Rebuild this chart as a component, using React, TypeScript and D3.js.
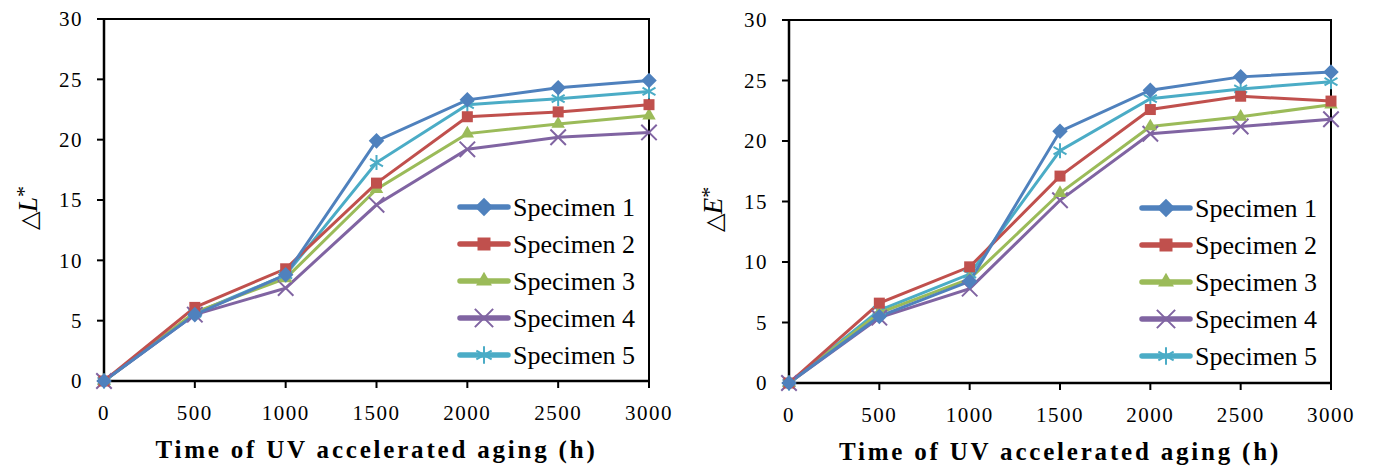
import React from "react";
import * as d3 from "d3";

const hours = [0, 500, 1000, 1500, 2000, 2500, 3000];
const yTicks = [0, 5, 10, 15, 20, 25, 30];
const seriesNames = ["Specimen 1", "Specimen 2", "Specimen 3", "Specimen 4", "Specimen 5"];
const seriesColors = ["#4f81bd", "#c0504d", "#9bbb59", "#8064a2", "#4bacc6"];
const seriesMarkers = ["diamond", "square", "triangle", "times", "asterisk"];

const deltaL1 = [0, 5.5, 8.8, 19.9, 23.3, 24.3, 24.9];
const deltaL2 = [0, 6.1, 9.3, 16.4, 21.9, 22.3, 22.9];
const deltaL3 = [0, 5.7, 8.5, 15.9, 20.5, 21.3, 22.0];
const deltaL4 = [0, 5.5, 7.7, 14.6, 19.2, 20.2, 20.6];
const deltaL5 = [0, 5.6, 8.8, 18.1, 22.9, 23.4, 24.0];

const deltaE1 = [0, 5.5, 8.4, 20.8, 24.2, 25.3, 25.7];
const deltaE2 = [0, 6.6, 9.6, 17.1, 22.6, 23.7, 23.3];
const deltaE3 = [0, 5.8, 8.6, 15.7, 21.2, 22.0, 23.0];
const deltaE4 = [0, 5.4, 7.8, 15.1, 20.6, 21.2, 21.8];
const deltaE5 = [0, 6.0, 9.0, 19.2, 23.5, 24.3, 24.9];

const FONT = "Liberation Serif";

function markerPath(kind: string, size: number) {
  if (kind === "diamond") return d3.symbol(d3.symbolSquare, size * size)();
  if (kind === "square") return d3.symbol(d3.symbolSquare, size * size)();
  if (kind === "triangle") return d3.symbol(d3.symbolTriangle, size * size * 0.65)();
  if (kind === "times") return d3.symbol(d3.symbolTimes, size * size * 1.3)();
  return d3.symbol(d3.symbolAsterisk, size * size * 1.3)();
}

function Marker({ kind, color, x, y, size }: any) {
  const stroked = kind === "times" || kind === "asterisk";
  const rot = kind === "diamond" ? " rotate(45)" : "";
  return (
    <path
      d={markerPath(kind, size) as string}
      transform={`translate(${x},${y})${rot}`}
      fill={stroked ? "none" : color}
      stroke={color}
      strokeWidth={stroked ? 2 : 0}
    />
  );
}

function Panel({ left, right, top, bottom, series, yLetter }: any) {
  const x = d3.scaleLinear().domain([0, 3000]).range([left, right]);
  const y = d3.scaleLinear().domain([0, 30]).range([bottom, top]);
  const line = d3
    .line<number>()
    .x((_, i) => x(hours[i]))
    .y((d) => y(d));
  const order = [4, 3, 2, 1, 0];
  const legX = right - 189;
  const legY0 = top + 188;
  return (
    <g>
      <path d={`M${left},${top}H${right}V${bottom}`} fill="none" stroke="#000" strokeWidth={2} />
      <line x1={left} x2={left} y1={top} y2={bottom + 1} stroke="#000" strokeWidth={2.5} />
      <line x1={left - 1} x2={right + 1} y1={bottom} y2={bottom} stroke="#000" strokeWidth={2.5} />
      {yTicks.map((t) => (
        <g key={"y" + t}>
          <line x1={left - 7} x2={left} y1={y(t)} y2={y(t)} stroke="#000" strokeWidth={2} />
          <text x={left - 21} y={y(t)} dy="0.35em" textAnchor="end" fontSize={21} letterSpacing={1.5} style={{ fontFamily: FONT }}>
            {t}
          </text>
        </g>
      ))}
      {hours.map((h) => (
        <g key={"x" + h}>
          <line x1={x(h)} x2={x(h)} y1={bottom} y2={bottom + 7} stroke="#000" strokeWidth={2} />
          <text x={x(h)} y={bottom + 39} textAnchor="middle" fontSize={21} letterSpacing={1.5} style={{ fontFamily: FONT }}>
            {h}
          </text>
        </g>
      ))}
      <text
        x={(left + right) / 2}
        y={bottom + 77}
        textAnchor="middle"
        fontSize={25}
        fontWeight="bold"
        letterSpacing={2.8}
        style={{ fontFamily: FONT }}
      >
        Time of UV accelerated aging (h)
      </text>
      <text
        transform={`translate(${left - 67},${(top + bottom) / 2 + 8}) rotate(-90)`}
        textAnchor="middle"
        fontSize={27}
        style={{ fontFamily: FONT }}
      >
        <tspan fontSize={24} style={{ fontFamily: "DejaVu Sans" }} fontWeight={200}>△</tspan>
        <tspan fontStyle="italic">{yLetter}</tspan>
        <tspan dy={-6} fontSize={22}>*</tspan>
      </text>
      {order.map((i) => (
        <path key={"l" + i} d={line(series[i]) as string} fill="none" stroke={seriesColors[i]} strokeWidth={3} />
      ))}
      {order.map((i) =>
        series[i].map((v: number, j: number) => (
          <Marker key={`m${i}-${j}`} kind={seriesMarkers[i]} color={seriesColors[i]} x={x(hours[j])} y={y(v)} size={11} />
        ))
      )}
      {seriesNames.map((name, i) => {
        const ly = legY0 + i * 37;
        return (
          <g key={"leg" + i}>
            <line x1={legX} x2={legX + 48} y1={ly} y2={ly} stroke={seriesColors[i]} strokeWidth={5.5} strokeLinecap="round" />
            <Marker kind={seriesMarkers[i]} color={seriesColors[i]} x={legX + 24} y={ly} size={13} />
            <text x={legX + 53} y={ly} dy="0.33em" fontSize={26} style={{ fontFamily: FONT }}>
              {name}
            </text>
          </g>
        );
      })}
    </g>
  );
}

export default function App() {
  const lSeries = [deltaL1, deltaL2, deltaL3, deltaL4, deltaL5];
  const eSeries = [deltaE1, deltaE2, deltaE3, deltaE4, deltaE5];
  return (
    <>
      <style>{`body{margin:0;background:#fff}`}</style>
      <svg width={1374} height={468} style={{ display: "block", background: "#fff" }}>
        <Panel left={104} right={649} top={19} bottom={381} series={lSeries} yLetter="L" />
        <Panel left={789} right={1331} top={20} bottom={383} series={eSeries} yLetter="E" />
      </svg>
    </>
  );
}
